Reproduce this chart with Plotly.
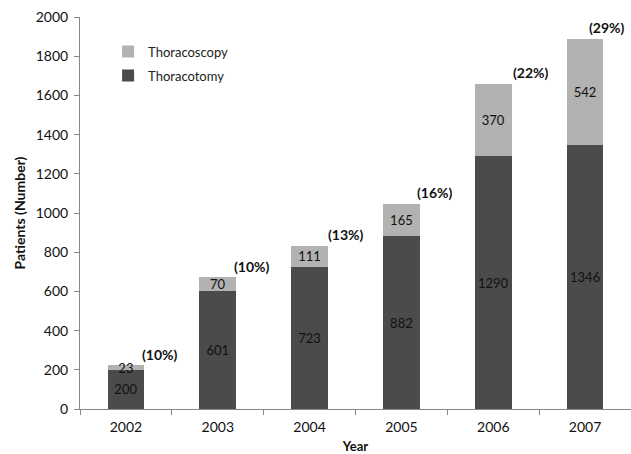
import plotly.graph_objects as go

years = ["2002", "2003", "2004", "2005", "2006", "2007"]
thoracotomy = [200, 601, 723, 882, 1290, 1346]
thoracoscopy = [23, 70, 111, 165, 370, 542]
pct_labels = ["(10%)", "(10%)", "(13%)", "(16%)", "(22%)", "(29%)"]
pct_xshift = [34, 34, 36, 34, 38, 22]

FONT = "Lato, Liberation Sans, sans-serif"
DARK = "#4b4b4b"
LIGHT = "#b2b2b2"

fig = go.Figure()
fig.add_trace(go.Bar(
    x=years, y=thoracotomy, name="Thoracotomy", legendrank=2, legendgroup="tomy",
    marker=dict(color=DARK, line=dict(width=0)),
    text=[str(v) for v in thoracotomy], textposition="inside",
    insidetextanchor="middle", textangle=0,
    textfont=dict(family=FONT, size=13, color="#111111"),
    width=0.4,
))
fig.add_trace(go.Bar(
    x=years, y=thoracoscopy, name="Thoracoscopy", legendrank=1, legendgroup="scopy",
    marker=dict(color=LIGHT, line=dict(width=0)),
    text=[str(v) for v in thoracoscopy], textposition="inside",
    insidetextanchor="middle", textangle=0,
    textfont=dict(family=FONT, size=13, color="#111111"),
    width=0.4,
))

totals = [a + b for a, b in zip(thoracotomy, thoracoscopy)]
for i, (tot, lab, xs) in enumerate(zip(totals, pct_labels, pct_xshift)):
    fig.add_annotation(
        x=i, y=tot, text=f"<b>{lab}</b>", showarrow=False,
        xshift=xs, yshift=11, yanchor="middle", xanchor="center",
        font=dict(family=FONT, size=14, color="#111111"),
    )

fig.update_layout(
    width=631, height=454,
    barmode="stack",
    plot_bgcolor="white", paper_bgcolor="white",
    margin=dict(l=80, r=0, t=17, b=45, autoexpand=False),
    uniformtext=dict(mode="show", minsize=13),
    font=dict(family=FONT, size=12, color="#111111"),
    legend=dict(
        x=0.051, y=0.95, xanchor="left", yanchor="top",
        traceorder="grouped", bgcolor="rgba(0,0,0,0)",
        font=dict(family=FONT, size=13, color="#222222"),
        itemwidth=30, tracegroupgap=4,
    ),
    showlegend=True,
)
fig.update_xaxes(
    type="category", range=[-0.5, len(years) - 0.5],
    showline=True, linecolor="#888888", linewidth=1,
    ticks="outside", tickson="boundaries", ticklen=5, tickcolor="#888888",
    tickfont=dict(family=FONT, size=14, color="#111111"),
    ticklabelstandoff=5,
    title=dict(text="<b>Year</b>", font=dict(family=FONT, size=13, color="#111111"), standoff=18),
    showgrid=False, automargin=False,
)
fig.update_yaxes(
    range=[0, 2000], dtick=200,
    showline=True, linecolor="#888888", linewidth=1,
    ticks="outside", ticklen=5, tickcolor="#888888",
    tickfont=dict(family=FONT, size=14, color="#111111"),
    ticklabelstandoff=3,
    title=dict(text="<b>Patients (Number)</b>", font=dict(family=FONT, size=14, color="#111111"), standoff=6),
    showgrid=False, zeroline=False, automargin=False,
)

fig.write_html(
    "out.html",
    config={"displayModeBar": False},
    post_script="document.body.style.margin='0';window.dispatchEvent(new Event('resize'));",
)
